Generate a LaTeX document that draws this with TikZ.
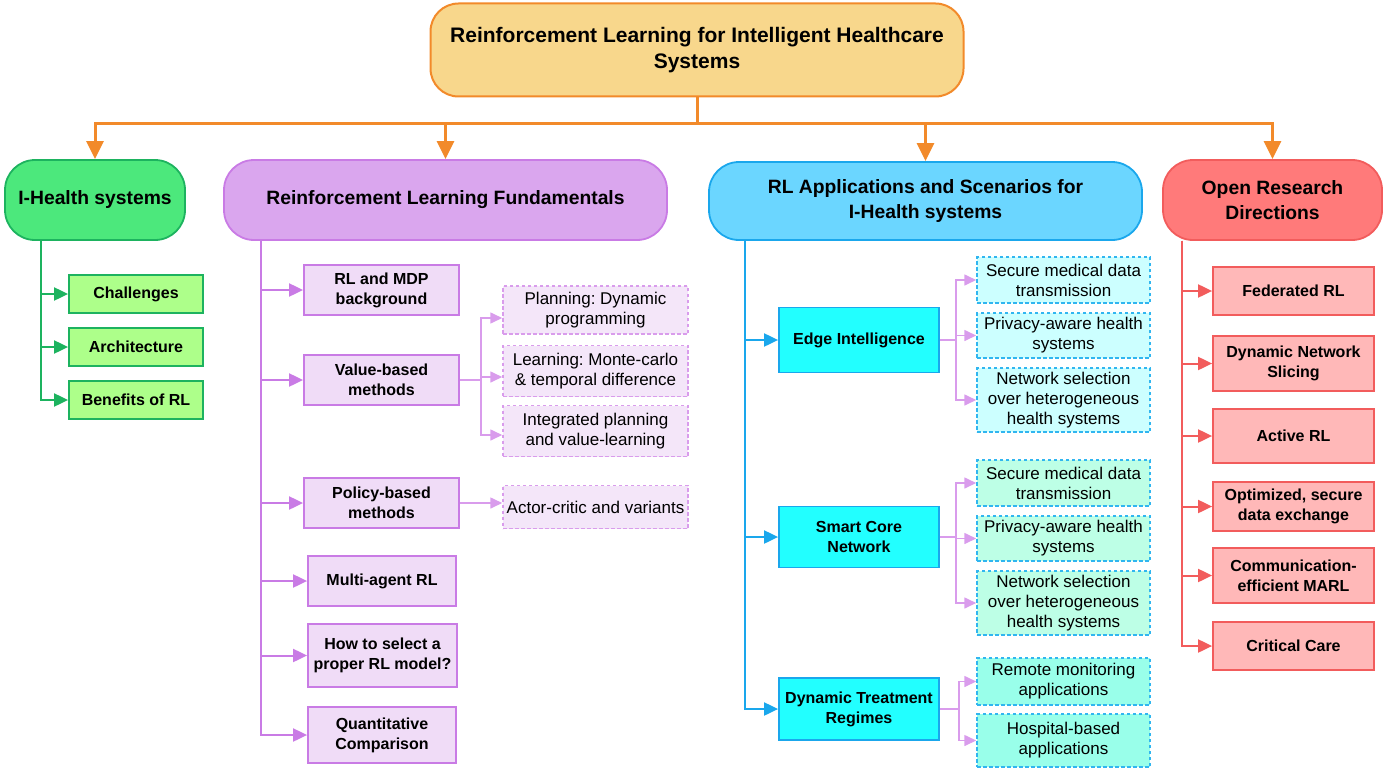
\documentclass[tikz,border=0pt]{standalone}
\usepackage{fontspec}
\setmainfont{Liberation Sans}
\usetikzlibrary{arrows.meta}
\frenchspacing

\definecolor{rootfill}{HTML}{F8D78C}
\definecolor{rootline}{HTML}{F28A2A}
\definecolor{gheadfill}{HTML}{4CE87C}
\definecolor{gline}{HTML}{1DB35F}
\definecolor{gfill}{HTML}{ADFF8A}
\definecolor{pheadfill}{HTML}{DAA6EE}
\definecolor{pline}{HTML}{C97BE5}
\definecolor{pfill}{HTML}{F0DCF7}
\definecolor{plight}{HTML}{D99CEC}
\definecolor{psubfill}{HTML}{F4E6F9}
\definecolor{bheadfill}{HTML}{6BD6FF}
\definecolor{bline}{HTML}{1AA7EC}
\definecolor{bfill}{HTML}{22FFFF}
\definecolor{bdash}{HTML}{30B6F0}
\definecolor{edgefill}{HTML}{CCFFFF}
\definecolor{corefill}{HTML}{BDFFE6}
\definecolor{dtrfill}{HTML}{99FFEA}
\definecolor{rheadfill}{HTML}{FF7A7A}
\definecolor{rline}{HTML}{F25C5C}
\definecolor{rfill}{HTML}{FFB8B8}

\begin{document}
\begin{tikzpicture}[x=1pt,y=-1pt]
	\tikzstyle{every node}=[align=center, inner sep=0pt]
	\tikzstyle{rootbox}=[draw=rootline, fill=rootfill, line width=2pt, rounded corners=28pt, minimum width=533pt, minimum height=93pt, font=\fontsize{21}{26}\selectfont\bfseries]
	\tikzstyle{head}=[line width=1.8pt, rounded corners=30pt, minimum height=80pt, font=\fontsize{19.3}{25}\selectfont\bfseries]
	\tikzstyle{child}=[line width=1.8pt, font=\fontsize{16}{20}\selectfont\bfseries]
	\tikzstyle{leaf}=[line width=1.5pt, dash pattern=on 3.5pt off 2.5pt, font=\fontsize{17}{20}\selectfont]
	\tikzstyle{gbox}=[child, draw=gline, fill=gfill, minimum width=134pt, minimum height=38pt]
	\tikzstyle{pbox}=[child, draw=pline, fill=pfill, minimum width=155pt, minimum height=50pt]
	\tikzstyle{psub}=[leaf, draw=plight, fill=psubfill, minimum width=185pt]
	\tikzstyle{bbox}=[child, draw=bline, fill=bfill, minimum width=160pt]
	\tikzstyle{bsub}=[leaf, draw=bdash, minimum width=173pt]
	\tikzstyle{rbox}=[child, draw=rline, fill=rfill, minimum width=161pt]
	\tikzstyle{bus}=[line width=3pt, draw=rootline]
	\tikzstyle{busarrow}=[bus, -{Triangle[length=18pt,width=17pt]}]
	\tikzstyle{link}=[line width=2pt, -{Triangle[length=14pt,width=13pt]}]
	\tikzstyle{sublink}=[line width=1.6pt, draw=plight, -{Triangle[length=12pt,width=11pt]}]

	\useasboundingbox (0,0) rectangle (1396,773);

	% title and section heads
	\node [rootbox] (root) at (697,50) {Reinforcement Learning for Intelligent Healthcare\\Systems};
	\node [head, draw=gline, fill=gheadfill, minimum width=180pt] (ghd) at (95,200) {I-Health systems};
	\node [head, draw=pline, fill=pheadfill, minimum width=443pt] (phd) at (445.5,200) {Reinforcement Learning Fundamentals};
	\node [head, draw=bline, fill=bheadfill, minimum width=433pt, minimum height=78pt] (bhd) at (925.5,201) {RL Applications and Scenarios for\\I-Health systems};
	\node [head, draw=rline, fill=rheadfill, minimum width=219pt] (rhd) at (1272.5,200) {Open Research\\Directions};

	\draw [bus] (root.south) -- ++(0,26) coordinate (busmid);
	\draw [busarrow] (busmid) -| (ghd.north);
	\draw [busarrow] (busmid) -| (phd.north);
	\draw [busarrow] (busmid) -| (bhd.north);
	\draw [busarrow] (busmid) -| (rhd.north);

	% I-Health systems
	\node [gbox] (chal) at (136,294) {Challenges};
	\node [gbox] (arch) at (136,347) {Architecture};
	\node [gbox] (bene) at (136,400) {Benefits of RL};
	\coordinate (gtr) at ([xshift=37pt]ghd.south west);
	\draw [link, gline] (gtr) |- (chal.west);
	\draw [link, gline] (gtr) |- (arch.west);
	\draw [link, gline] (gtr) |- (bene.west);

	% RL fundamentals
	\node [pbox] (rlmdp) at (381.5,290) {RL and MDP\\background};
	\node [pbox] (value) at (381.5,380) {Value-based\\methods};
	\node [pbox] (policy) at (381.5,503) {Policy-based\\methods};
	\node [pbox, minimum width=148pt] (multi) at (382,581) {Multi-agent RL};
	\node [pbox, minimum width=149pt, minimum height=63pt] (howto) at (382.5,655.5) {How to select a\\proper RL model?};
	\node [pbox, minimum width=148pt, minimum height=56pt] (quant) at (382,735) {Quantitative\\Comparison};
	\coordinate (ptr) at ([xshift=38pt]phd.south west);
	\draw [link, pline] (ptr) |- (rlmdp.west);
	\draw [link, pline] (ptr) |- (value.west);
	\draw [link, pline] (ptr) |- (policy.west);
	\draw [link, pline] (ptr) |- (multi.west);
	\draw [link, pline] (ptr) |- (howto.west);
	\draw [link, pline] (ptr) |- (quant.west);

	\node [psub, minimum height=48pt] (plan) at (595.5,310) {Planning: Dynamic\\programming};
	\node [psub, minimum height=51pt] (learn) at (595.5,371) {Learning: Monte-carlo\\\& temporal difference};
	\node [psub, minimum height=51pt] (integ) at (595.5,431) {Integrated planning\\and value-learning};
	\node [psub, minimum height=43pt] (actor) at (595.5,507) {Actor-critic and variants};
	\draw [sublink] (value.east) -- ++(21,0) |- ([yshift=-8pt]plan.west);
	\draw [sublink] (value.east) -- ++(21,0) |- ([yshift=-6pt]learn.west);
	\draw [sublink] (value.east) -- ++(21,0) |- ([yshift=-4pt]integ.west);
	\draw [sublink] (policy.east) -- (policy.east -| actor.west);

	% RL applications
	\node [bbox, minimum height=65pt] (edge) at (859,340) {Edge Intelligence};
	\node [bbox, minimum height=61pt] (core) at (859,537) {Smart Core\\Network};
	\node [bbox, minimum height=62pt] (dtr) at (859,709) {Dynamic Treatment\\Regimes};
	\coordinate (btr) at ([xshift=37pt]bhd.south west);
	\draw [link, bline] (btr) |- (edge.west);
	\draw [link, bline] (btr) |- (core.west);
	\draw [link, bline] (btr) |- (dtr.west);

	\node [bsub, fill=edgefill, minimum height=46pt] (esec) at (1063.5,280) {Secure medical data\\transmission};
	\node [bsub, fill=edgefill, minimum height=45pt] (epriv) at (1063.5,335.5) {Privacy-aware health\\systems};
	\node [bsub, fill=edgefill, minimum height=64pt] (enet) at (1063.5,400) {Network selection\\over heterogeneous\\health systems};
	\draw [sublink] (edge.east) -- ++(16,0) |- (esec.west);
	\draw [sublink] (edge.east) -- ++(16,0) |- (epriv.west);
	\draw [sublink] (edge.east) -- ++(16,0) |- (enet.west);

	\node [bsub, fill=corefill, minimum height=46pt] (csec) at (1063.5,483) {Secure medical data\\transmission};
	\node [bsub, fill=corefill, minimum height=45pt] (cpriv) at (1063.5,538.5) {Privacy-aware health\\systems};
	\node [bsub, fill=corefill, minimum height=64pt] (cnet) at (1063.5,603) {Network selection\\over heterogeneous\\health systems};
	\draw [sublink] (core.east) -- ++(16,0) |- (csec.west);
	\draw [sublink] (core.east) -- ++(16,0) |- (cpriv.west);
	\draw [sublink] (core.east) -- ++(16,0) |- (cnet.west);

	\node [bsub, fill=dtrfill, minimum height=47pt] (remote) at (1063.5,681.5) {Remote monitoring\\applications};
	\node [bsub, fill=dtrfill, minimum height=53pt] (hosp) at (1063.5,740.5) {Hospital-based\\applications};
	\draw [sublink] (dtr.east) -- ++(19,0) |- (remote.west);
	\draw [sublink] (dtr.east) -- ++(19,0) |- (hosp.west);

	% open research directions
	\node [rbox, minimum height=48pt] (fed) at (1293.5,291) {Federated RL};
	\node [rbox, minimum height=55pt] (slice) at (1293.5,363.5) {Dynamic Network\\Slicing};
	\node [rbox, minimum height=54pt] (active) at (1293.5,436) {Active RL};
	\node [rbox, minimum height=49pt] (optim) at (1293.5,506.5) {Optimized, secure\\data exchange};
	\node [rbox, minimum height=55pt] (comm) at (1293.5,575.5) {Communication-\\efficient MARL};
	\node [rbox, minimum height=48pt] (crit) at (1293.5,646) {Critical Care};
	\coordinate (rtr) at ([xshift=20pt]rhd.south west);
	\draw [link, rline] (rtr) |- (fed.west);
	\draw [link, rline] (rtr) |- (slice.west);
	\draw [link, rline] (rtr) |- (active.west);
	\draw [link, rline] (rtr) |- (optim.west);
	\draw [link, rline] (rtr) |- (comm.west);
	\draw [link, rline] (rtr) |- (crit.west);

\end{tikzpicture}
\end{document}
